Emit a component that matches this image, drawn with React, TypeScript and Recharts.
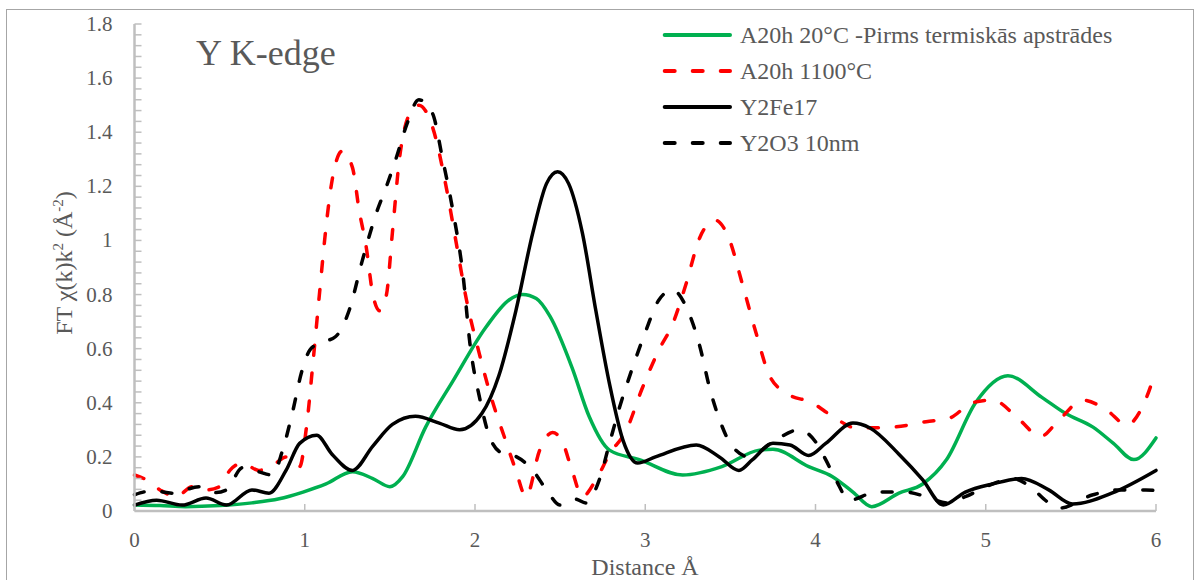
import { LineChart, Line, XAxis, YAxis } from 'recharts';

// distance (Å) / FT magnitude pairs, one pair of arrays per series
const greenX = [0, 0.15, 0.3, 0.5, 0.69, 0.85, 0.99, 1.125, 1.28, 1.4, 1.5, 1.575, 1.71, 1.87, 2.065, 2.2, 2.28, 2.36, 2.44, 2.57, 2.67, 2.79, 2.965, 3.22, 3.45, 3.67, 3.75, 3.96, 4.1, 4.22, 4.33, 4.49, 4.63, 4.77, 4.94, 5.13, 5.33, 5.47, 5.63, 5.75, 5.87, 6.0];
const greenY = [0.022, 0.02, 0.016, 0.02, 0.03, 0.045, 0.07, 0.1, 0.145, 0.12, 0.09, 0.127, 0.31, 0.48, 0.68, 0.78, 0.8, 0.785, 0.72, 0.53, 0.35, 0.225, 0.19, 0.133, 0.164, 0.225, 0.228, 0.164, 0.127, 0.07, 0.016, 0.066, 0.1, 0.19, 0.4, 0.5, 0.42, 0.36, 0.31, 0.25, 0.19, 0.27];

const redX = [0, 0.07, 0.15, 0.245, 0.34, 0.42, 0.5, 0.56, 0.635, 0.73, 0.83, 0.89, 0.97, 1.01, 1.05, 1.086, 1.125, 1.16, 1.22, 1.28, 1.32, 1.36, 1.4, 1.44, 1.48, 1.515, 1.556, 1.61, 1.67, 1.75, 1.83, 1.89, 1.95, 2.026, 2.1, 2.18, 2.24, 2.3, 2.38, 2.455, 2.51, 2.57, 2.63, 2.71, 2.79, 2.89, 2.98, 3.08, 3.16, 3.24, 3.32, 3.41, 3.49, 3.57, 3.65, 3.73, 3.83, 3.98, 4.1, 4.24, 4.45, 4.65, 4.79, 4.92, 5.04, 5.2, 5.32, 5.43, 5.57, 5.71, 5.83, 5.92, 6.0];
const redY = [0.133, 0.115, 0.078, 0.053, 0.09, 0.078, 0.09, 0.15, 0.177, 0.15, 0.177, 0.2, 0.164, 0.31, 0.56, 0.8, 1.05, 1.22, 1.33, 1.27, 1.11, 0.98, 0.8, 0.74, 0.8, 1.03, 1.3, 1.46, 1.5, 1.42, 1.2, 0.99, 0.78, 0.58, 0.41, 0.26, 0.15, 0.053, 0.225, 0.29, 0.26, 0.15, 0.053, 0.115, 0.21, 0.3, 0.45, 0.595, 0.69, 0.84, 1.01, 1.075, 1.01, 0.84, 0.66, 0.5, 0.435, 0.4, 0.35, 0.307, 0.31, 0.33, 0.344, 0.4, 0.41, 0.336, 0.275, 0.336, 0.41, 0.373, 0.318, 0.385, 0.52];

const feX = [0, 0.13, 0.28, 0.42, 0.54, 0.69, 0.79, 0.89, 0.97, 1.07, 1.16, 1.28, 1.4, 1.515, 1.65, 1.79, 1.91, 2.04, 2.14, 2.24, 2.34, 2.42, 2.485, 2.55, 2.63, 2.71, 2.79, 2.87, 2.955, 3.06, 3.3, 3.435, 3.55, 3.63, 3.75, 3.85, 3.96, 4.06, 4.22, 4.32, 4.49, 4.63, 4.75, 4.88, 5.04, 5.21, 5.37, 5.51, 5.74, 6.0];
const feY = [0.022, 0.04, 0.022, 0.048, 0.022, 0.078, 0.066, 0.15, 0.25, 0.28, 0.21, 0.15, 0.24, 0.32, 0.35, 0.325, 0.3, 0.36, 0.5, 0.74, 1.03, 1.21, 1.254, 1.21, 1.03, 0.74, 0.47, 0.26, 0.177, 0.2, 0.244, 0.2, 0.15, 0.19, 0.25, 0.244, 0.205, 0.25, 0.325, 0.307, 0.21, 0.115, 0.022, 0.07, 0.1, 0.12, 0.078, 0.026, 0.066, 0.15];

const oxX = [0, 0.11, 0.225, 0.38, 0.48, 0.54, 0.635, 0.73, 0.81, 0.87, 0.93, 0.98, 1.03, 1.086, 1.18, 1.26, 1.34, 1.42, 1.48, 1.54, 1.6, 1.67, 1.75, 1.81, 1.87, 1.93, 1.97, 2.03, 2.085, 2.16, 2.22, 2.34, 2.42, 2.5, 2.59, 2.65, 2.73, 2.79, 2.85, 2.92, 3.0, 3.08, 3.16, 3.24, 3.32, 3.38, 3.435, 3.51, 3.61, 3.75, 3.905, 4.0, 4.06, 4.12, 4.2, 4.355, 4.53, 4.65, 4.77, 4.88, 5.04, 5.16, 5.27, 5.36, 5.43, 5.63, 5.78, 5.94, 6.0];
const oxY = [0.06, 0.075, 0.066, 0.09, 0.068, 0.078, 0.16, 0.145, 0.133, 0.225, 0.37, 0.51, 0.595, 0.62, 0.644, 0.74, 0.93, 1.1, 1.2, 1.31, 1.43, 1.52, 1.47, 1.3, 1.11, 0.87, 0.62, 0.41, 0.275, 0.214, 0.207, 0.15, 0.078, 0.022, 0.044, 0.03, 0.115, 0.25, 0.385, 0.52, 0.66, 0.78, 0.817, 0.755, 0.61, 0.45, 0.34, 0.24, 0.2, 0.256, 0.3, 0.256, 0.19, 0.115, 0.04, 0.07, 0.07, 0.053, 0.03, 0.053, 0.1, 0.12, 0.085, 0.035, 0.01, 0.06, 0.078, 0.078, 0.075];

const seriesNames = ['A20h 20°C -Pirms termiskās apstrādes', 'A20h 1100°C', 'Y2Fe17', 'Y2O3 10nm'];
const xTicks = [0, 1, 2, 3, 4, 5, 6];
const yLabels = ['0', '0.2', '0.4', '0.6', '0.8', '1', '1.2', '1.4', '1.6', '1.8'];
// Excel minor unit = major / 5
const yTicks = Array.from({ length: 46 }, (_, i) => +(i * 0.04).toFixed(2));

const toPoints = (xs: number[], ys: number[]) => xs.map((x, i) => ({ x, y: ys[i] }));

const series = [
  { name: seriesNames[0], data: toPoints(greenX, greenY), color: '#00b050', dash: undefined },
  { name: seriesNames[1], data: toPoints(redX, redY), color: '#ff0000', dash: '10 18' },
  { name: seriesNames[2], data: toPoints(feX, feY), color: '#000000', dash: undefined },
  { name: seriesNames[3], data: toPoints(oxX, oxY), color: '#000000', dash: '10 18' },
];

const FONT = '"Liberation Serif", "Times New Roman", serif';
const TEXT = '#595959';
const AXIS = '#bfbfbf';

const renderYTick = (props: any) => {
  const { x, y, payload } = props;
  const step = Math.round(payload.value / 0.04);
  const major = step % 5 === 0;
  return (
    <g>
      <line x1={x} x2={x + 7} y1={y} y2={y} stroke={AXIS} strokeWidth={1.5} />
      {major && (
        <text x={x - 22} y={y} dy={7} textAnchor="end" fill={TEXT} fontSize={21} fontFamily={FONT}>
          {yLabels[step / 5]}
        </text>
      )}
    </g>
  );
};

const renderXTick = (props: any) => {
  const { x, y, payload } = props;
  return (
    <g>
      <line x1={x} x2={x} y1={y} y2={y - 7} stroke={AXIS} strokeWidth={1.5} />
      <text x={x} y={y + 36} textAnchor="middle" fill={TEXT} fontSize={21} fontFamily={FONT}>
        {payload.value}
      </text>
    </g>
  );
};

const LegendBox = () => (
  <div style={{ position: 'absolute', left: 658, top: 17, fontFamily: FONT, color: TEXT, fontSize: 24 }}>
    {series.map((s) => (
      <div key={s.name} style={{ display: 'flex', alignItems: 'center', height: 36 }}>
        <svg width={82} height={10} style={{ flex: 'none' }}>
          <line x1={6.7} x2={72} y1={5} y2={5} stroke={s.color} strokeWidth={4}
            strokeLinecap="round" strokeDasharray={s.dash} />
        </svg>
        <span style={{ whiteSpace: 'nowrap' }}>{s.name}</span>
      </div>
    ))}
  </div>
);

export default function App() {
  return (
    <div style={{ position: 'absolute', left: 0, top: 0, width: 1198, height: 580, background: '#fff', overflow: 'hidden' }}>
      <div style={{ position: 'absolute', left: 6, top: 9, width: 1186, height: 600, border: '1px solid #a6a6a6' }} />
      <div style={{ position: 'absolute', left: 196, top: 35, fontFamily: FONT, fontSize: 36, lineHeight: '36px', color: TEXT }}>
        Y K-edge
      </div>
      <LegendBox />
      <LineChart width={1198} height={580} margin={{ top: 24, right: 42, left: 0, bottom: 0 }} style={{ position: 'absolute', left: 0, top: 0 }}>
        <XAxis
          dataKey="x"
          type="number"
          domain={[0, 6]}
          ticks={xTicks}
          interval={0}
          height={69}
          tickSize={0}
          tickMargin={0}
          tickLine={false}
          tick={renderXTick}
          axisLine={{ stroke: AXIS, strokeWidth: 2.5 }}
          label={{
            content: () => (
              <text x={645} y={575} textAnchor="middle" fill={TEXT} fontSize={24} fontFamily={FONT}>
                Distance Å
              </text>
            ),
          }}
        />
        <YAxis
          type="number"
          domain={[0, 1.8]}
          ticks={yTicks}
          interval={0}
          width={134.5}
          tickSize={0}
          tickMargin={0}
          tickLine={false}
          tick={renderYTick}
          axisLine={{ stroke: AXIS, strokeWidth: 2.5 }}
          label={{
            content: () => (
              <text transform="translate(72, 263) rotate(-90)" textAnchor="middle" fill={TEXT} fontSize={24} fontFamily={FONT}>
                FT χ(k)k<tspan dy={-9} fontSize={15}>2</tspan>
                <tspan dy={9}> (Å</tspan>
                <tspan dy={-9} fontSize={15}>-2</tspan>
                <tspan dy={9}>)</tspan>
              </text>
            ),
          }}
        />
        {series.map((s) => (
          <Line
            key={s.name}
            data={s.data}
            dataKey="y"
            name={s.name}
            type="monotone"
            stroke={s.color}
            strokeWidth={3.5}
            strokeDasharray={s.dash}
            strokeLinecap="round"
            dot={false}
            activeDot={false}
            isAnimationActive={false}
          />
        ))}
      </LineChart>
    </div>
  );
}
